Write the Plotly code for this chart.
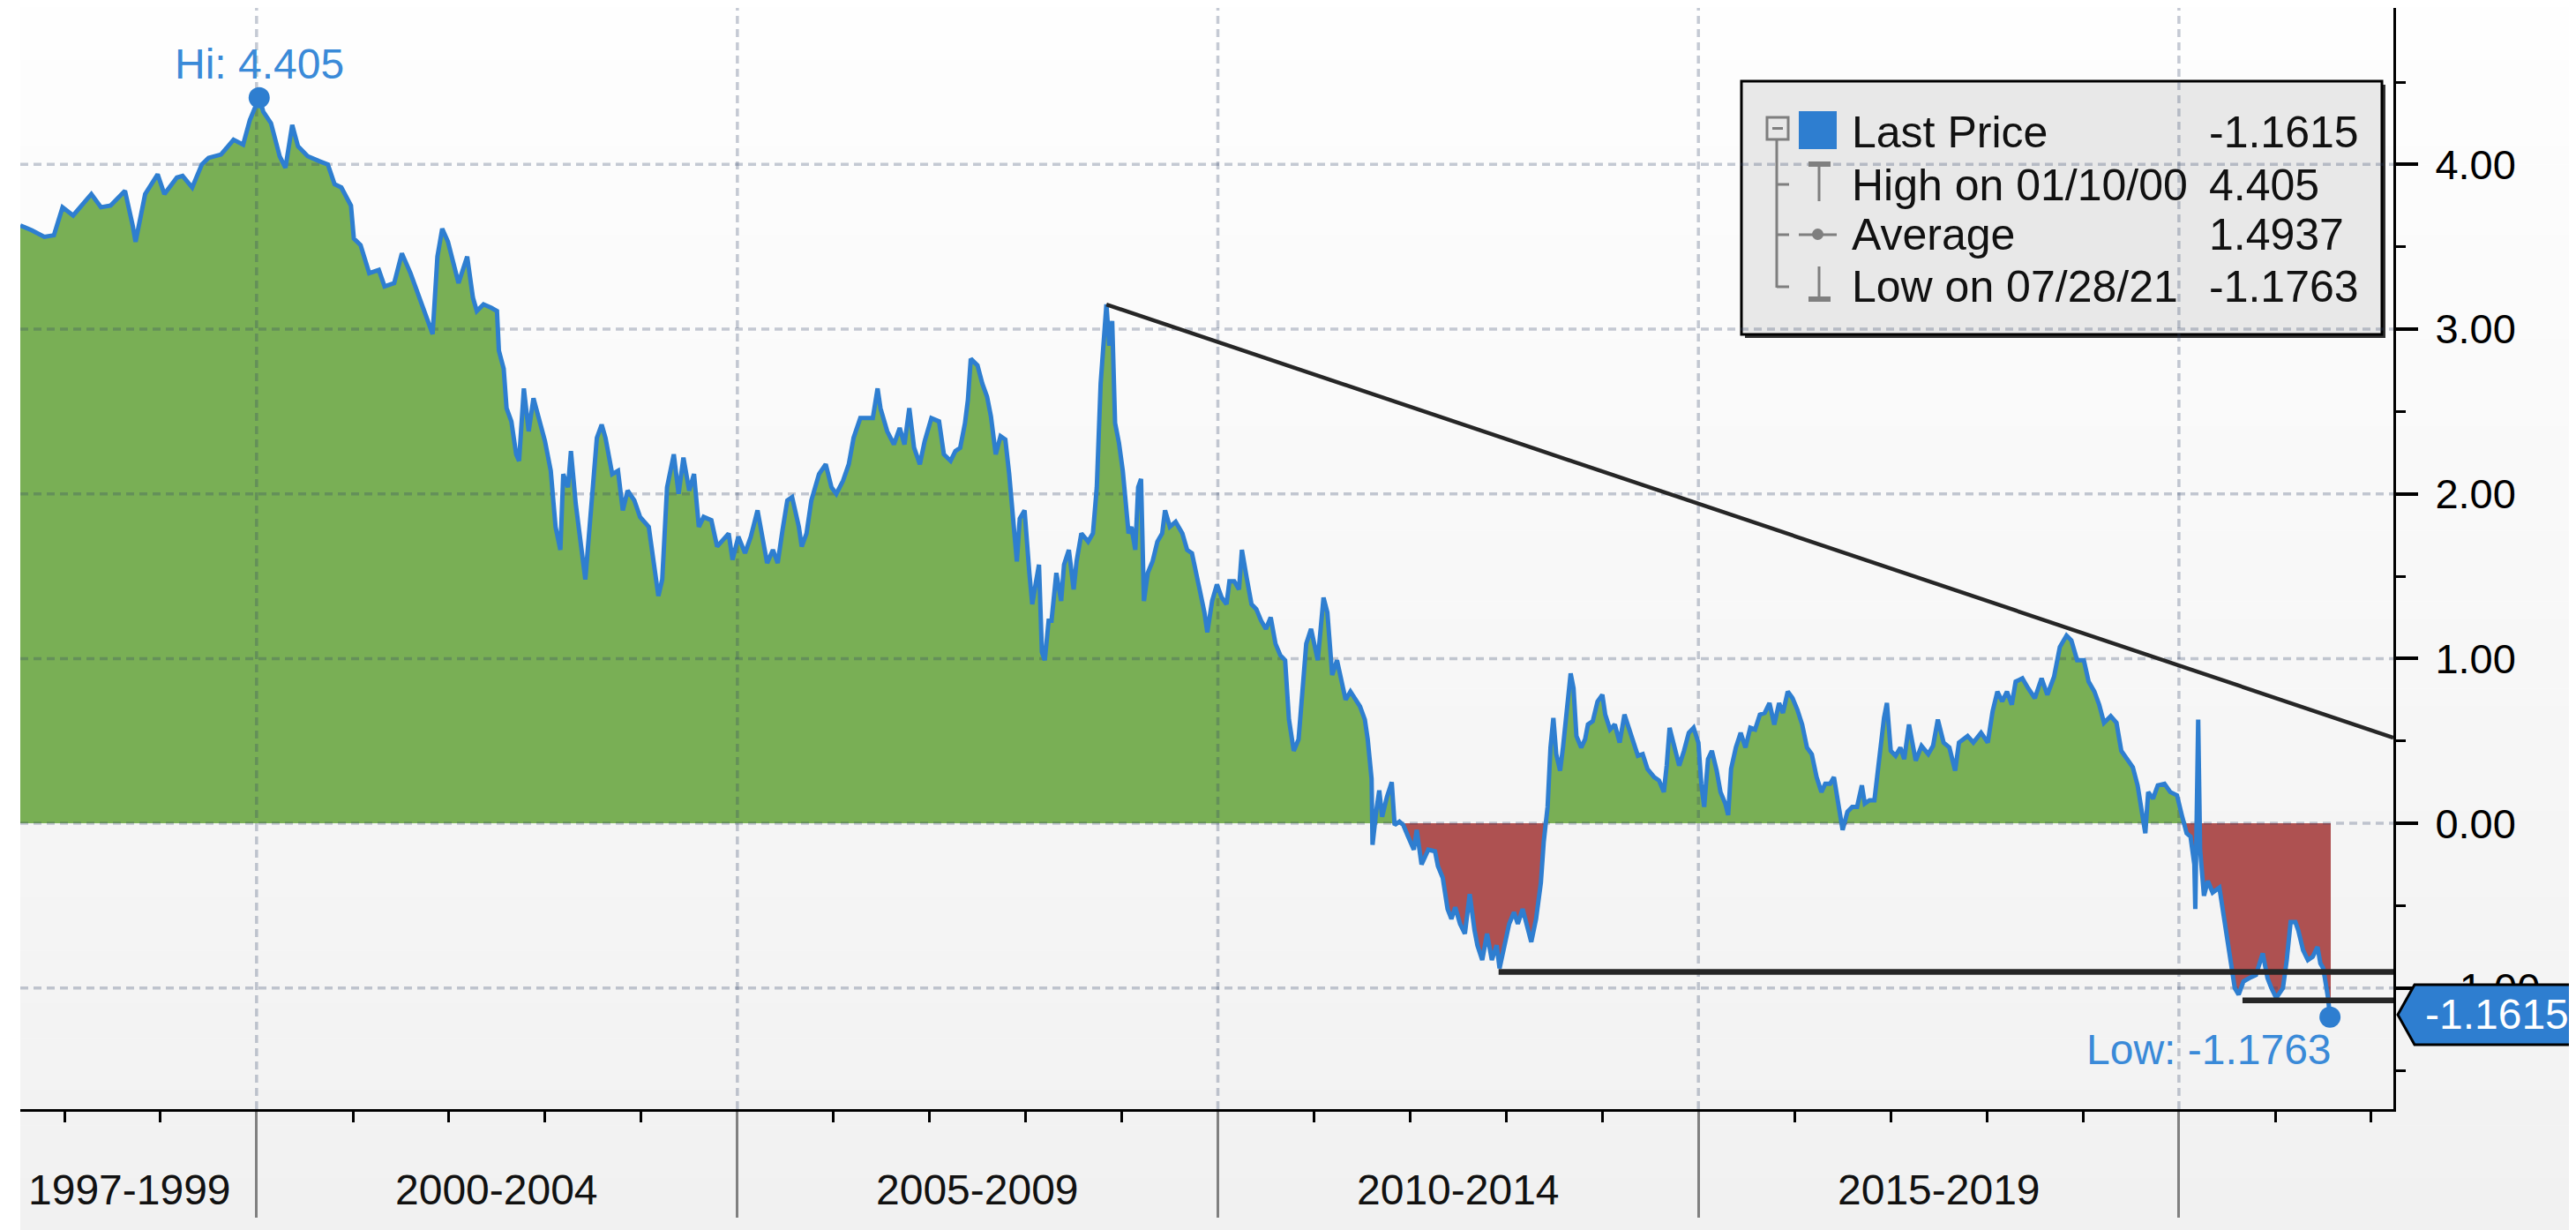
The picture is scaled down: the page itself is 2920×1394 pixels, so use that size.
import pandas as pd
import plotly.graph_objects as go

# ---------------- data ----------------
years = [
    1997.54, 1997.66, 1997.79, 1997.89, 1997.98, 1998.09, 1998.28, 1998.38, 1998.48, 1998.63,
    1998.71, 1998.74, 1998.84, 1998.97, 1999.04, 1999.17, 1999.23, 1999.33, 1999.43, 1999.50,
    1999.63, 1999.76, 1999.86, 1999.93, 2000.027, 2000.07, 2000.15, 2000.24, 2000.30, 2000.37,
    2000.43, 2000.53, 2000.65, 2000.74, 2000.81, 2000.88, 2000.98, 2001.01, 2001.08, 2001.17,
    2001.27, 2001.33, 2001.43, 2001.51, 2001.60, 2001.66, 2001.73, 2001.83, 2001.88, 2001.93,
    2001.99, 2002.10, 2002.19, 2002.25,
    2002.29, 2002.36, 2002.44, 2002.50, 2002.52, 2002.57, 2002.60, 2002.65, 2002.70, 2002.73,
    2002.78, 2002.83, 2002.88, 2002.95, 2003.00, 2003.06, 2003.11, 2003.16, 2003.19, 2003.24,
    2003.27, 2003.32, 2003.37, 2003.42, 2003.47, 2003.54, 2003.59, 2003.63, 2003.70, 2003.76,
    2003.81, 2003.86, 2003.93, 2003.99, 2004.08, 2004.14, 2004.18, 2004.22, 2004.27, 2004.34,
    2004.39, 2004.44, 2004.50, 2004.55, 2004.60, 2004.65, 2004.73, 2004.79, 2004.85, 2004.91,
    2004.95, 2005.01, 2005.08, 2005.14, 2005.21, 2005.26, 2005.31, 2005.37, 2005.42, 2005.47,
    2005.52, 2005.57, 2005.64, 2005.67, 2005.72, 2005.77, 2005.85, 2005.92, 2005.98, 2006.03,
    2006.10, 2006.16, 2006.21, 2006.28, 2006.36, 2006.41, 2006.46, 2006.49, 2006.56, 2006.63,
    2006.69, 2006.74, 2006.79, 2006.84, 2006.90, 2006.95, 2007.02, 2007.10, 2007.15, 2007.22,
    2007.27, 2007.32, 2007.37, 2007.40, 2007.43, 2007.50, 2007.55, 2007.60, 2007.64, 2007.69,
    2007.74, 2007.79, 2007.83, 2007.86, 2007.91, 2007.94, 2007.99, 2008.04, 2008.07, 2008.11,
    2008.14, 2008.17, 2008.20, 2008.24, 2008.27, 2008.32, 2008.37, 2008.40, 2008.45, 2008.50,
    2008.53, 2008.58, 2008.65, 2008.70, 2008.74, 2008.78, 2008.81, 2008.84, 2008.87, 2008.90,
    2008.93, 2008.97, 2009.01, 2009.04, 2009.07, 2009.10, 2009.14, 2009.17, 2009.20, 2009.23,
    2009.27, 2009.32, 2009.37, 2009.42, 2009.45, 2009.50, 2009.56, 2009.63, 2009.68, 2009.73,
    2009.78, 2009.81, 2009.86, 2009.89, 2009.94, 2009.99, 2010.04, 2010.09, 2010.12, 2010.17,
    2010.22, 2010.25, 2010.30, 2010.35, 2010.40, 2010.45, 2010.50, 2010.55, 2010.60, 2010.65,
    2010.70, 2010.74, 2010.79, 2010.84, 2010.88, 2010.92, 2010.97, 2011.04, 2011.07, 2011.10,
    2011.14, 2011.19, 2011.24, 2011.29, 2011.33, 2011.38, 2011.43, 2011.48, 2011.53, 2011.56,
    2011.60, 2011.61, 2011.65, 2011.68, 2011.71, 2011.76, 2011.81, 2011.84, 2011.89, 2011.93,
    2011.98, 2012.04, 2012.07, 2012.12, 2012.19,
    2012.26, 2012.29, 2012.34, 2012.39, 2012.43, 2012.47, 2012.52, 2012.57, 2012.62, 2012.67,
    2012.70, 2012.75, 2012.80, 2012.85, 2012.90, 2012.93, 2012.98, 2013.03, 2013.08, 2013.12,
    2013.17, 2013.23, 2013.26, 2013.31, 2013.36, 2013.39, 2013.43, 2013.46, 2013.49, 2013.52,
    2013.56, 2013.59, 2013.64, 2013.67, 2013.70, 2013.73, 2013.78, 2013.82, 2013.85, 2013.90,
    2013.95, 2014.00, 2014.03, 2014.08, 2014.13, 2014.18, 2014.23, 2014.28, 2014.32, 2014.37,
    2014.42, 2014.47, 2014.54, 2014.59, 2014.64, 2014.67, 2014.70, 2014.75, 2014.80, 2014.85,
    2014.90, 2014.95, 2015.00, 2015.03, 2015.06, 2015.10, 2015.14, 2015.19, 2015.23, 2015.28,
    2015.31, 2015.34, 2015.39, 2015.44, 2015.49, 2015.54, 2015.59, 2015.64, 2015.69, 2015.74,
    2015.79, 2015.84, 2015.88, 2015.93, 2015.98, 2016.03, 2016.08, 2016.13, 2016.18, 2016.23,
    2016.28, 2016.32, 2016.37, 2016.41, 2016.44, 2016.47, 2016.50, 2016.55, 2016.60, 2016.65,
    2016.70, 2016.73, 2016.78, 2016.83, 2016.88, 2016.93, 2016.96, 2017.00, 2017.05, 2017.10,
    2017.14, 2017.19,
    2017.26, 2017.32, 2017.39, 2017.44, 2017.49, 2017.55, 2017.61, 2017.67, 2017.71, 2017.80,
    2017.86, 2017.94, 2018.01, 2018.06, 2018.11, 2018.16, 2018.21, 2018.26, 2018.30, 2018.37,
    2018.43, 2018.50, 2018.57, 2018.63, 2018.70, 2018.76, 2018.83, 2018.88, 2018.94, 2019.01,
    2019.06, 2019.12, 2019.17, 2019.22, 2019.29, 2019.35, 2019.40, 2019.47, 2019.52, 2019.57,
    2019.62, 2019.65, 2019.68, 2019.73, 2019.78, 2019.85, 2019.91, 2019.98, 2020.03, 2020.08,
    2020.12, 2020.16, 2020.17, 2020.20, 2020.22, 2020.26, 2020.30, 2020.35, 2020.42, 2020.45,
    2020.50, 2020.55, 2020.58, 2020.62, 2020.67, 2020.73, 2020.80, 2020.87, 2020.92, 2020.96,
    2021.01, 2021.08, 2021.12, 2021.16, 2021.21, 2021.24, 2021.29, 2021.34, 2021.39, 2021.44,
    2021.47, 2021.50, 2021.53, 2021.55, 2021.570, 2021.578,
]
values = [
    3.63, 3.60, 3.56, 3.57, 3.74, 3.69, 3.82, 3.74, 3.75, 3.84,
    3.63, 3.53, 3.82, 3.94, 3.82, 3.92, 3.93, 3.86, 4.00, 4.04,
    4.06, 4.15, 4.12, 4.27, 4.405, 4.32, 4.25, 4.05, 3.98, 4.24,
    4.11, 4.05, 4.02, 4.00, 3.88, 3.86, 3.75, 3.55, 3.51, 3.34,
    3.36, 3.26, 3.28, 3.46, 3.34, 3.24, 3.13, 2.97, 3.44, 3.61,
    3.53, 3.28, 3.44, 3.19,
    3.11, 3.15, 3.13, 3.11, 2.87, 2.76, 2.52, 2.44, 2.24, 2.20,
    2.64, 2.38, 2.58, 2.44, 2.32, 2.14, 1.80, 1.66, 2.12, 2.04,
    2.26, 1.94, 1.70, 1.48, 1.84, 2.34, 2.42, 2.34, 2.12, 2.14,
    1.90, 2.02, 1.96, 1.86, 1.80, 1.54, 1.38, 1.48, 2.04, 2.24,
    2.00, 2.22, 2.02, 2.12, 1.80, 1.86, 1.84, 1.68, 1.72, 1.76,
    1.60, 1.74, 1.64, 1.74, 1.90, 1.74, 1.58, 1.66, 1.58, 1.78,
    1.96, 1.98, 1.80, 1.68, 1.76, 1.96, 2.12, 2.18, 2.04, 2.00,
    2.08, 2.18, 2.34, 2.46, 2.46, 2.46, 2.64, 2.52, 2.38, 2.30,
    2.40, 2.30, 2.52, 2.28, 2.18, 2.32, 2.46, 2.44, 2.24, 2.20,
    2.26, 2.28, 2.43, 2.57, 2.82, 2.78, 2.67, 2.59, 2.47, 2.24,
    2.35, 2.33, 2.12, 1.90, 1.59, 1.85, 1.90, 1.52, 1.33, 1.47,
    1.57, 1.04, 0.99, 1.23, 1.23, 1.52, 1.35, 1.57, 1.66, 1.42,
    1.59, 1.76, 1.71, 1.76, 2.04, 2.67, 2.95, 3.15, 2.90, 3.05,
    2.43, 2.31, 2.14, 1.95, 1.76, 1.80, 1.66, 2.04, 2.09, 1.35,
    1.52, 1.59, 1.71, 1.76, 1.90, 1.80, 1.83, 1.76, 1.66, 1.64,
    1.52, 1.42, 1.28, 1.16, 1.35, 1.45, 1.37, 1.33, 1.47, 1.47,
    1.42, 1.66, 1.49, 1.33, 1.30, 1.23, 1.18, 1.25, 1.09, 1.02,
    0.99, 0.63, 0.44, 0.51, 0.80, 1.09, 1.18, 0.99, 1.18, 1.37,
    1.28, 0.90, 0.99, 0.85, 0.75, 0.80, 0.75, 0.71, 0.63, 0.51,
    0.27, -0.13, 0.08, 0.20, 0.04, 0.16, 0.25, -0.01, 0.01, -0.01,
    -0.08, -0.16, -0.04, -0.25, -0.16,
    -0.17, -0.26, -0.33, -0.52, -0.58, -0.51, -0.61, -0.67, -0.43, -0.65,
    -0.74, -0.83, -0.67, -0.83, -0.74, -0.88, -0.74, -0.61, -0.54, -0.61,
    -0.52, -0.65, -0.72, -0.58, -0.36, -0.11, 0.10, 0.46, 0.64, 0.42,
    0.32, 0.46, 0.76, 0.91, 0.82, 0.53, 0.46, 0.51, 0.60, 0.62,
    0.74, 0.78, 0.66, 0.57, 0.60, 0.49, 0.66, 0.57, 0.51, 0.41,
    0.42, 0.33, 0.28, 0.26, 0.19, 0.35, 0.58, 0.46, 0.35, 0.44,
    0.55, 0.58, 0.49, 0.24, 0.10, 0.39, 0.44, 0.32, 0.19, 0.12,
    0.05, 0.33, 0.46, 0.55, 0.46, 0.58, 0.57, 0.66, 0.67, 0.73,
    0.60, 0.73, 0.67, 0.80, 0.76, 0.69, 0.60, 0.46, 0.42, 0.28,
    0.19, 0.24, 0.24, 0.28, 0.17, 0.10, -0.04, 0.07, 0.10, 0.10,
    0.23, 0.12, 0.14, 0.14, 0.42, 0.64, 0.73, 0.44, 0.41, 0.46,
    0.39, 0.60,
    0.38, 0.47, 0.42, 0.47, 0.63, 0.49, 0.46, 0.32, 0.49, 0.53,
    0.49, 0.55, 0.49, 0.68, 0.80, 0.74, 0.80, 0.72, 0.86, 0.88,
    0.82, 0.76, 0.88, 0.78, 0.89, 1.07, 1.14, 1.11, 0.99, 0.99,
    0.86, 0.80, 0.72, 0.61, 0.65, 0.61, 0.44, 0.38, 0.34, 0.23,
    0.03, -0.06, 0.19, 0.15, 0.23, 0.24, 0.19, 0.17, 0.05, -0.06,
    -0.08, -0.25, -0.52, 0.63, -0.16, -0.44, -0.35, -0.42, -0.39, -0.50,
    -0.67, -0.86, -1.00, -1.04, -0.96, -0.94, -0.92, -0.79, -0.94, -1.00,
    -1.06, -1.00, -0.83, -0.60, -0.60, -0.65, -0.77, -0.83, -0.81, -0.75,
    -0.85, -0.88, -0.98, -1.06, -1.1763, -1.1615,
]

HI_YEAR, HI_VALUE, HI_LABEL_DATE = 2000.027, 4.405, "01/10/00"
LOW_YEAR, LOW_VALUE, LOW_LABEL_DATE = 2021.570, -1.1763, "07/28/21"
LAST_VALUE = -1.1615
AVG_VALUE = 1.4937

# hand-drawn trend / support lines (year, value)
trend_years = [2008.84, 2022.23]
trend_values = [3.15, 0.52]
support1_years = [2012.92, 2022.23]
support1_values = [-0.902, -0.902]
support2_years = [2020.66, 2022.23]
support2_values = [-1.075, -1.075]

period_labels = ["1997-1999", "2000-2004", "2005-2009", "2010-2014", "2015-2019"]
period_centers = [1998.68, 2002.5, 2007.5, 2012.5, 2017.5]
separator_years = [2000, 2005, 2010, 2015, 2020]
grid_values = [-1, 0, 1, 2, 3, 4]

X_START, X_END = 1997.54, 2022.23
Y_MIN, Y_MAX = -1.735, 4.95

# ---------------- geometry / style ----------------
W, H = 2920, 1394
OFF = 8                      # page body margin added by the html page
PL, PT = 23, 9               # on-screen plot-area left / top
PR, PB = 2713, 1257          # on-screen plot-area right / bottom
ML, MT = PL - OFF, PT - OFF
MR = W - PR + OFF
MB = H - PB + OFF
PW = PR - PL
PH = PB - PT
FONT = "Liberation Sans, Arial, sans-serif"
BLUE = "#2e7ed0"
LABEL_BLUE = "#3a8ad8"
GREEN = "#79af55"
RED = "#ae5151"
GRAY = "#7f7f7f"


def px(X):
    """screen x (px) -> paper fraction"""
    return (X - PL) / PW


def py(Y):
    """screen y (px) -> paper fraction"""
    return (PB - Y) / PH


def to_date(y):
    yr = int(y)
    start = pd.Timestamp(yr, 1, 1)
    end = pd.Timestamp(yr + 1, 1, 1)
    return (start + (end - start) * (y - yr)).strftime("%Y-%m-%d %H:%M")


dates = [to_date(y) for y in years]
pos = [max(v, 0) for v in values]
neg = [min(v, 0) for v in values]

fig = go.Figure()
fig.add_trace(go.Scatter(x=dates, y=pos, mode="lines", line=dict(width=0),
                         fill="tozeroy", fillcolor=GREEN, hoverinfo="skip"))
fig.add_trace(go.Scatter(x=dates, y=neg, mode="lines", line=dict(width=0),
                         fill="tozeroy", fillcolor=RED, hoverinfo="skip"))

# grid lines (drawn over the fills, under the price line)
gx, gy = [], []
for yr in separator_years:
    gx += [to_date(yr), to_date(yr), None]
    gy += [Y_MIN, Y_MAX, None]
for v in grid_values:
    gx += [to_date(X_START), to_date(X_END), None]
    gy += [v, v, None]
fig.add_trace(go.Scatter(x=gx, y=gy, mode="lines",
                         line=dict(color="rgba(44,64,100,0.27)", width=3.5, dash="9px,6px"),
                         hoverinfo="skip"))

fig.add_trace(go.Scatter(x=dates, y=values, mode="lines",
                         line=dict(color=BLUE, width=5), hoverinfo="skip"))

for xs, ys, w in [(trend_years, trend_values, 4.5),
                  (support1_years, support1_values, 6.5),
                  (support2_years, support2_values, 6.5)]:
    fig.add_trace(go.Scatter(x=[to_date(v) for v in xs], y=ys, mode="lines",
                             line=dict(color="#262626", width=w), hoverinfo="skip"))

fig.add_trace(go.Scatter(x=[to_date(HI_YEAR), to_date(LOW_YEAR)], y=[HI_VALUE, LOW_VALUE],
                         mode="markers", marker=dict(color=BLUE, size=24),
                         cliponaxis=False, hoverinfo="skip"))

shapes = []
# background gradient
NB = 70
for i in range(NB):
    y0 = OFF + (H - OFF) * i / NB
    y1 = OFF + (H - OFF) * (i + 1) / NB
    c = round(254 - 13 * (i + 0.5) / NB)
    shapes.append(dict(type="rect", xref="paper", yref="paper", layer="below",
                       x0=px(PL), x1=px(W + 20), y0=py(y1 + 0.5), y1=py(y0),
                       fillcolor=f"rgb({c},{c},{c})", line=dict(width=0)))

# legend box (shadow + box)
shapes.append(dict(type="rect", xref="paper", yref="paper", layer="below",
                   x0=px(1978), x1=px(2704), y0=py(383), y1=py(96),
                   fillcolor="#333333", line=dict(width=0)))
shapes.append(dict(type="rect", xref="paper", yref="paper", layer="below",
                   x0=px(1974), x1=px(2700), y0=py(379), y1=py(92),
                   fillcolor="#e8e8e8", line=dict(color="black", width=3)))


def seg(x0, y0, x1, y1, color=GRAY, width=3):
    shapes.append(dict(type="line", xref="paper", yref="paper", layer="above",
                       x0=px(x0), y0=py(y0), x1=px(x1), y1=py(y1),
                       line=dict(color=color, width=width)))


def box(x0, y0, x1, y1, fill, line_color=None, lw=0):
    shapes.append(dict(type="rect", xref="paper", yref="paper", layer="above",
                       x0=px(x0), y0=py(y1), x1=px(x1), y1=py(y0), fillcolor=fill,
                       line=dict(color=line_color or fill, width=lw)))


# legend tree & icons
seg(2014, 158, 2014, 326)
seg(2014, 209, 2028, 209)
seg(2014, 266, 2028, 266)
seg(2014, 325, 2028, 325)
box(2003, 133, 2027, 158, "#e8e8e8", GRAY, 3)
seg(2009, 145.5, 2021, 145.5)
box(2039, 126, 2082, 169, BLUE)
box(2050, 183, 2075, 189, GRAY)
seg(2062, 189, 2062, 228)
seg(2039, 266, 2082, 266)
shapes.append(dict(type="circle", xref="paper", yref="paper", layer="above",
                   x0=px(2054), x1=px(2067), y0=py(272), y1=py(259),
                   fillcolor=GRAY, line=dict(width=0)))
seg(2062, 302, 2062, 337)
box(2050, 336, 2075, 342, GRAY)

# last price tag on the axis
hh = 34 / (PH / (Y_MAX - Y_MIN))
c = LAST_VALUE
tag_path = (f"M {px(2718)},{c} L {px(2737)},{c + hh} L {px(2950)},{c + hh} "
            f"L {px(2950)},{c - hh} L {px(2737)},{c - hh} Z")
shapes.append(dict(type="path", xref="paper", yref="y", layer="above", path=tag_path,
                   fillcolor=BLUE, line=dict(color="black", width=3)))

annotations = []
legend_rows = [
    ("Last Price", f"{LAST_VALUE:.4f}", 150),
    (f"High on {HI_LABEL_DATE}", f"{HI_VALUE:.3f}", 210),
    ("Average", f"{AVG_VALUE:.4f}", 266),
    (f"Low on {LOW_LABEL_DATE}", f"{LOW_VALUE:.4f}", 325),
]
for label, val, yc in legend_rows:
    annotations.append(dict(xref="paper", yref="paper", x=px(2097), y=py(yc), text=label,
                            xanchor="left", yanchor="middle", showarrow=False,
                            font=dict(family=FONT, size=50, color="#111111")))
    annotations.append(dict(xref="paper", yref="paper", x=px(2502), y=py(yc), text=val,
                            xanchor="left", yanchor="middle", showarrow=False,
                            font=dict(family=FONT, size=50, color="#111111")))

annotations.append(dict(x=to_date(HI_YEAR), y=HI_VALUE, xref="x", yref="y",
                        text=f"Hi: {HI_VALUE:.3f}", showarrow=False, xanchor="center",
                        yanchor="bottom", yshift=10,
                        font=dict(family=FONT, size=48, color=LABEL_BLUE)))
annotations.append(dict(x=to_date(LOW_YEAR), y=LOW_VALUE, xref="x", yref="y",
                        text=f"Low: {LOW_VALUE:.4f}", showarrow=False, xanchor="right",
                        yanchor="top", yshift=-8, xshift=4,
                        font=dict(family=FONT, size=48, color=LABEL_BLUE)))
annotations.append(dict(xref="paper", yref="y", x=px(2830), y=LAST_VALUE,
                        text=f"{LAST_VALUE:.4f}", showarrow=False, xanchor="center",
                        yanchor="middle", font=dict(family=FONT, size=48, color="white")))

for lab, cy in zip(period_labels, period_centers):
    annotations.append(dict(xref="x", yref="paper", x=to_date(cy), y=py(1348),
                            text=lab, showarrow=False, xanchor="center", yanchor="middle",
                            font=dict(family=FONT, size=48, color="#111111")))

fig.update_layout(
    width=W, height=H,
    margin=dict(l=ML, r=MR, t=MT, b=MB, pad=0),
    paper_bgcolor="white", plot_bgcolor="rgba(0,0,0,0)",
    showlegend=False, hovermode=False,
    font=dict(family=FONT, size=48, color="black"),
    shapes=shapes, annotations=annotations,
)
fig.update_xaxes(
    type="date", range=[to_date(X_START), to_date(X_END)],
    showgrid=False, zeroline=False, showline=True, linecolor="black", linewidth=3,
    ticks="outside", tick0="2000-01-01", dtick="M60", ticklen=120, tickwidth=3,
    tickcolor="#808080", showticklabels=False,
    minor=dict(ticks="outside", tick0="2000-01-01", dtick="M12", ticklen=12,
               tickwidth=3, tickcolor="black", showgrid=False),
)
fig.update_yaxes(
    side="right", range=[Y_MIN, Y_MAX], tickmode="linear", tick0=0, dtick=1,
    tickformat=".2f", showgrid=False, zeroline=False, showline=True,
    linecolor="black", linewidth=3, ticks="outside", ticklen=25, tickwidth=4,
    tickcolor="black", ticklabelstandoff=10,
    tickfont=dict(family=FONT, size=47, color="black"),
    minor=dict(ticks="outside", tick0=0, dtick=0.5, ticklen=11, tickwidth=3,
               tickcolor="black", showgrid=False),
)

fig.write_html("out.html")
